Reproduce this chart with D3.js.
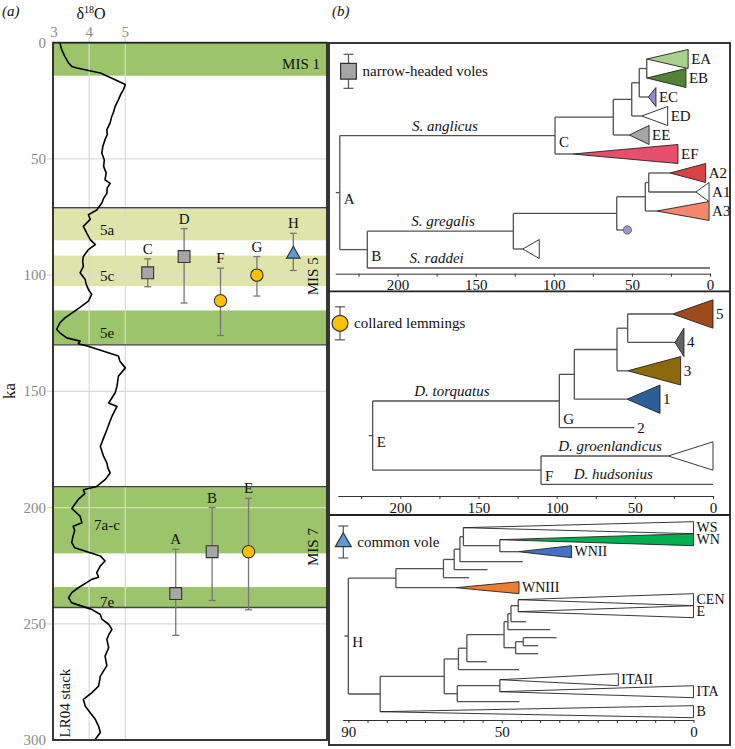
<!DOCTYPE html>
<meta charset="utf-8">
<style>
body{margin:0;background:#fff}
text{font-family:'Liberation Serif','Times New Roman',serif;font-size:15px;fill:#111}
.gray{fill:#8a8a8a}
.it{font-style:italic}
</style>
<script src="https://d3js.org/d3.v7.min.js"></script>
<svg width="735" height="749"></svg>
<script>
// ---- panel (a) data ----
// LR04 benthic stack, [ka, d18O]
var lr04 = [[0,3.19],[3,3.24],[6,3.33],[8.7,3.43],[10.2,3.52],[10.9,3.66],[13,4.31],[15.9,4.72],[18,5.0],[20.2,4.95],
  [22,4.88],[24.5,4.81],[27.4,4.72],[30,4.67],[32,4.62],[34.5,4.58],[37.4,4.49],[39.5,4.5],[41.7,4.44],[44.5,4.38],[47.5,4.35],
  [50.5,4.42],[53.2,4.4],[56,4.47],[59,4.44],[60.5,4.58],[62.5,4.5],[64.8,4.49],[67,4.4],[69,4.35],[72,4.21],[74,3.98],
  [76,4.03],[79,3.84],[81.8,3.93],[84.7,4.03],[86.9,4.17],[89,3.98],[92,3.84],[94,3.82],[96.2,3.84],[99,3.75],[101.9,3.89],
  [104,3.92],[106.2,3.98],[108.3,4.07],[111.2,3.98],[114.8,3.66],[118.4,3.33],[120.5,3.19],[123.4,3.1],[124.8,3.19],
  [127,3.38],[128.4,3.75],[129.5,3.7],[130.5,3.95],[132,4.25],[134.8,4.81],[137,4.85],[139.9,5.0],[143.5,4.81],[147.8,4.77],
  [150.6,4.72],[155,4.54],[156.5,4.77],[160.8,4.63],[163.5,4.56],[166.5,4.49],[170,4.4],[173.7,4.31],[178,4.4],[180.8,4.49],
  [183,4.52],[185.1,4.58],[188,4.44],[190.9,4.21],[192.3,3.84],[194,3.88],[196.5,3.7],[200.4,3.52],[203.7,3.75],[206.5,3.8],
  [208,3.56],[210,3.6],[212.5,3.55],[215.1,3.52],[217.3,3.6],[219.4,4.03],[220.8,4.31],[223,4.44],[225.1,4.31],[228,4.21],
  [230,4.26],[230.9,4.07],[232.3,3.93],[234.5,3.7],[236.6,3.52],[238.8,3.43],[241,3.52],[242.4,3.8],[243.8,4.07],[246,4.31],
  [248,4.35],[250.2,4.54],[252.4,4.63],[254.5,4.55],[256.7,4.49],[260.3,4.54],[263.9,4.44],[268,4.49],[272.5,4.31],
  [276.8,4.26],[279.7,4.07],[282.5,3.84],[285.4,3.89],[288.3,4.03],[291.1,4.17],[294,4.26],[296.8,4.31],[299.7,4.17]];

var bandName = ["MIS 1", "5a", "5c", "5e", "7a-c", "7e"];
var bandFrom = [0, 71.5, 91.6, 115.2, 190.7, 234.2];
var bandTo   = [14.2, 85, 104.7, 130, 219.7, 242.8];
var bandWarm = [true, false, false, true, true, true];
var stageLines = [71, 130, 191, 243];
var stageName = ["MIS 5", "MIS 7"];
var stageFrom = [71, 191];
var stageTo   = [130, 243];

var sampleId   = ["C", "D", "F", "G", "H", "A", "B", "E"];
var sampleType = ["vole", "vole", "lemming", "lemming", "common", "vole", "vole", "lemming"];
var sampleKa   = [99, 92, 111, 100, 91, 237, 219, 219];
var sampleLo   = [93, 80, 97, 92, 82, 218, 200, 196];
var sampleHi   = [105, 112, 126, 109, 98, 255, 240, 244];
var sampleSlot = [1, 2, 3, 4, 5, 1.77, 2.77, 3.77];

var kaTicks = [0, 50, 100, 150, 200, 250, 300];
var d18Ticks = [3, 4, 5];

// ---- panel (b) trees: N(age, kids, opts), L(tipAge, opts) ----
function N(age, kids, o) { return Object.assign({age: age, kids: kids}, o || {}); }
function L(tip, o) { return Object.assign({tip: tip}, o || {}); }

var volesTree = N(237, [
  N(99.2, [
    N(61.9, [
      N(50.1, [
        N(45.3, [
          N(40.5, [L(14, {lab: "EA", fill: "#a9d18e"}), L(15.4, {lab: "EB", fill: "#548235"})]),
          L(34.6, {lab: "EC", fill: "#8f88cc", apex: 39.5})
        ]),
        L(27.1, {lab: "ED", fill: "#fff", apex: 43.7})
      ]),
      L(39, {lab: "EE", fill: "#a5a5a5", apex: 51.7})
    ]),
    L(20.5, {lab: "EF", fill: "#e84d6c", apex: 88})
  ], {lab: "C", bl: "S. anglicus", at: 169.7}),
  N(219.4, [
    N(125.9, [
      N(59.7, [
        N(41.4, [
          N(39.2, [L(2.8, {lab: "A2", fill: "#d94343", apex: 25.6}), L(0.6, {lab: "A1", fill: "#fff", apex: 9})]),
          L(0.6, {lab: "A3", fill: "#f4876b", apex: 34})
        ]),
        L(52.9, {dot: "#9d95d3"})
      ]),
      L(109.3, {fill: "#fff", apex: 119.9})
    ], {bl: "S. gregalis", at: 170.9}),
    L(0, {bl: "S. raddei", at: 175})
  ], {lab: "B"})
], {lab: "A"});

var lemmingTree = N(217.7, [
  N(98.3, [
    N(88.7, [
      N(61.4, [
        N(54.6, [L(0, {lab: "5", fill: "#9e4a1b", apex: 25.8}), L(18.6, {lab: "4", fill: "#636363", apex: 24.3})]),
        L(20.7, {lab: "3", fill: "#8c6a0c", apex: 54.6})
      ]),
      L(33.9, {lab: "1", fill: "#2c5f97", apex: 55})
    ]),
    L(50.3, {lab: "2"})
  ], {lab: "G", ldy: 12, bl: "D. torquatus", at: 167}),
  N(110, [
    L(0, {fill: "#fff", apex: 28.6, bl: "D. groenlandicus", at: 65.9}),
    L(0, {bl: "D. hudsonius", at: 63.8})
  ], {lab: "F"})
], {lab: "E"});

var commonTree = N(90, [
  N(77.6, [
    N(65.2, [
      N(62.4, [
        N(60.9, [
          N(60, [
            L(0, {lab: "WS", fill: "#fff"}),
            N(50.5, [L(0, {lab: "WN", fill: "#00b050"}), L(31.8, {lab: "WNII", fill: "#4472c4", apex: 45.7})])
          ]),
          L(44.5)
        ]),
        L(53.7)
      ]),
      L(58.5)
    ]),
    L(45.5, {lab: "WNIII", fill: "#ed7d31", apex: 62})
  ]),
  N(81.7, [
    N(65, [
      N(61.3, [
        N(59.1, [
          N(49.4, [
            N(48.4, [
              N(47.6, [N(45.7, [L(0, {lab: "CEN", fill: "#fff"}), L(0, {lab: "E", fill: "#fff"})]), L(43.7)]),
              L(37.4)
            ]),
            N(46.4, [N(44.4, [L(35.7), L(40.5)]), L(40.5)])
          ]),
          L(53.9)
        ]),
        L(45.5)
      ]),
      N(61.6, [N(50.5, [L(19.6, {lab: "ITAII", fill: "#fff"}), L(0, {lab: "ITA", fill: "#fff"})]), L(45.4)])
    ]),
    L(0, {lab: "B", fill: "#fff"})
  ])
], {lab: "H"});

var svg = d3.select("svg");
svg.append("rect").attr("width", 735).attr("height", 749).attr("fill", "#fff");

// ================= panel (a) =================
var ky = d3.scaleLinear().domain([0, 300]).range([42.7, 740]);
var dx = d3.scaleLinear().domain([3, 5]).range([53, 125.3]);
var sx = d3.scaleLinear().domain([1, 5]).range([147.7, 293.3]);
var left = 53, right = 327;
var ga = svg.append("g");

ga.selectAll(".band").data(bandName).enter().append("rect")
  .attr("x", left).attr("width", right - left)
  .attr("y", function(d, i) { return ky(bandFrom[i]); })
  .attr("height", function(d, i) { return ky(bandTo[i]) - ky(bandFrom[i]); })
  .attr("fill", function(d, i) { return bandWarm[i] ? "#9cc46a" : "#dfe5aa"; });

// grid
ga.selectAll(".hg").data(kaTicks.slice(1, -1)).enter().append("line")
  .attr("x1", 47).attr("x2", right).attr("y1", ky).attr("y2", ky)
  .attr("stroke", "#dadada").attr("stroke-width", 1.2);
ga.selectAll(".vg").data([4, 5]).enter().append("line")
  .attr("x1", dx).attr("x2", dx).attr("y1", 37).attr("y2", ky(300))
  .attr("stroke", "#dadada").attr("stroke-width", 1.2);

ga.selectAll(".sl").data(stageLines).enter().append("line")
  .attr("x1", left).attr("x2", right).attr("y1", ky).attr("y2", ky)
  .attr("stroke", "#444").attr("stroke-width", 1.3);

ga.selectAll(".yl").data(kaTicks).enter().append("text").attr("class", "gray")
  .attr("x", 46).attr("y", function(d) { return ky(d) + 5; })
  .attr("text-anchor", "end").text(function(d) { return d; });
ga.selectAll(".xl").data(d18Ticks).enter().append("text").attr("class", "gray")
  .attr("x", function(d) { return dx(d) + (d === 3 ? 1 : 0); }).attr("y", 37)
  .attr("text-anchor", "middle").text(function(d) { return d; });

var dt = ga.append("text").attr("x", 91).attr("y", 19).attr("text-anchor", "middle").style("font-size", "16px");
dt.append("tspan").text("δ");
dt.append("tspan").attr("dy", -6).style("font-size", "10px").text("18");
dt.append("tspan").attr("dy", 6).text("O");

ga.append("text").attr("transform", "translate(15,391) rotate(-90)").attr("text-anchor", "middle")
  .style("font-size", "17px").text("ka");
ga.append("text").attr("x", 2).attr("y", 16).attr("class", "it").text("(a)");

// band labels
ga.selectAll(".bl").data(bandName).enter().append("text")
  .attr("x", function(d, i) { return i === 0 ? 320 : 107; })
  .attr("y", function(d, i) { return ky((bandFrom[i] + bandTo[i]) / 2) + 10; })
  .attr("text-anchor", function(d, i) { return i === 0 ? "end" : "middle"; })
  .text(function(d) { return d; });
ga.selectAll(".ml").data(stageName).enter().append("text")
  .attr("transform", function(d, i) { return "translate(318," + ky((stageFrom[i] + stageTo[i]) / 2) + ") rotate(-90)"; })
  .attr("text-anchor", "middle").text(function(d) { return d; });
ga.append("text").attr("transform", "translate(70,703) rotate(-90)").attr("text-anchor", "middle").text("LR04 stack");

// curve
ga.append("path").datum(lr04)
  .attr("d", d3.line().x(function(d) { return dx(d[1]); }).y(function(d) { return ky(d[0]); }))
  .attr("fill", "none").attr("stroke", "#000").attr("stroke-width", 1.6).attr("stroke-linejoin", "round");

// frame
ga.append("rect").attr("x", left).attr("y", ky(0)).attr("width", right - left).attr("height", ky(300) - ky(0))
  .attr("fill", "none").attr("stroke", "#222").attr("stroke-width", 1.8);

// samples
var symStyle = {
  vole:    {type: d3.symbolSquare, size: 140, fill: "#a6a6a6"},
  lemming: {type: d3.symbolCircle, size: 120, fill: "#ffc000"},
  common:  {type: d3.symbolTriangle, size: 80, fill: "#5b9bd5"}
};
function errBar(g, x, y1, y2, cw) {
  g.append("line").attr("x1", x).attr("x2", x).attr("y1", y1).attr("y2", y2);
  g.append("line").attr("x1", x - cw).attr("x2", x + cw).attr("y1", y1).attr("y2", y1);
  g.append("line").attr("x1", x - cw).attr("x2", x + cw).attr("y1", y2).attr("y2", y2);
}
sampleId.forEach(function(id, i) {
  var x = sx(sampleSlot[i]);
  var g = ga.append("g").attr("stroke", "#777").attr("stroke-width", 1.3);
  errBar(g, x, ky(sampleLo[i]), ky(sampleHi[i]), 3.5);
  var st = symStyle[sampleType[i]];
  ga.append("path").attr("d", d3.symbol().type(st.type).size(st.size)())
    .attr("transform", "translate(" + x + "," + ky(sampleKa[i]) + ")")
    .attr("fill", st.fill).attr("stroke", "#333").attr("stroke-width", 1.1);
  ga.append("text").attr("x", x).attr("y", ky(sampleLo[i]) - 5).attr("text-anchor", "middle").text(id);
});

// ================= panel (b) =================
var gb = svg.append("g");
gb.append("text").attr("x", 332).attr("y", 16).attr("class", "it").text("(b)");

function layoutTree(root, unit, tri, top) {
  var cur = 0;
  (function walk(n) {
    if (!n.kids) {
      var span = n.fill ? tri : 1;
      n.row = cur + span / 2; n.span = span; cur += span; return;
    }
    n.kids.forEach(walk);
    n.row = (n.kids[0].row + n.kids[n.kids.length - 1].row) / 2;
  })(root);
  return d3.scaleLinear().domain([0, cur]).range([top, top + cur * unit]);
}

function drawTree(g, root, x, y, unit, fs) {
  var lines = g.append("g").attr("stroke", "#505050").attr("stroke-width", 1.3).attr("fill", "none");
  var shapes = g.append("g");
  var texts = g.append("g");
  function seg(x1, y1, x2, y2) {
    lines.append("line").attr("x1", x1).attr("y1", y1).attr("x2", x2).attr("y2", y2);
  }
  function branchLabel(n, yy) {
    if (!n.bl) return;
    texts.append("text").attr("class", "it").attr("x", x(n.at)).attr("y", yy - 5)
      .attr("text-anchor", "middle").text(n.bl);
  }
  function walk(n, px) {
    var yy = y(n.row);
    if (n.kids) {
      var nx = x(n.age);
      seg(px, yy, nx, yy);
      seg(nx, y(n.kids[0].row), nx, y(n.kids[n.kids.length - 1].row));
      branchLabel(n, yy);
      if (n.lab) texts.append("text").attr("x", nx + 4).attr("y", yy + 11 + (n.ldy || 0)).text(n.lab);
      n.kids.forEach(function(k) { walk(k, nx); });
      return;
    }
    branchLabel(n, yy);
    var tx = x(n.tip);
    if (n.dot) {
      var cx = x(n.tip);
      seg(px, yy, cx - 4, yy);
      shapes.append("circle").attr("cx", cx).attr("cy", yy).attr("r", 4.2)
        .attr("fill", n.dot).attr("stroke", "#555").attr("stroke-width", 0.8);
      return;
    }
    if (n.fill) {
      var ax = n.apex !== undefined ? x(n.apex) : px;
      if (ax > px) seg(px, yy, ax, yy);
      var hh = n.span * unit / 2;
      shapes.append("path")
        .attr("d", "M" + ax + "," + yy + "L" + tx + "," + (yy - hh) + "L" + tx + "," + (yy + hh) + "Z")
        .attr("fill", n.fill).attr("stroke", "#222").attr("stroke-width", 0.9).attr("stroke-linejoin", "miter");
    } else {
      seg(px, yy, tx, yy);
    }
    if (n.lab) texts.append("text").attr("x", tx + 3).attr("y", yy + fs / 3)
      .style("font-size", fs + "px").text(n.lab);
  }
  var rx = x(root.age);
  walk(root, rx - 4);
}

function treeAxis(g, x, yAxis, step, labs) {
  var ax = d3.axisBottom(x).tickValues(d3.range(0, x.domain()[1] + 0.01, step))
    .tickSize(3).tickPadding(3).tickSizeOuter(0)
    .tickFormat(function(d) { return labs.indexOf(d) >= 0 ? d : ""; });
  var a = g.append("g").attr("transform", "translate(0," + yAxis + ")").call(ax);
  a.select(".domain").attr("stroke", "#333");
  a.selectAll(".tick line").attr("stroke", "#333");
  a.selectAll("text").style("font-family", "'Liberation Serif','Times New Roman',serif")
    .style("font-size", "15px").attr("fill", "#111");
}

// upper: narrow-headed voles
var x1 = d3.scaleLinear().domain([0, 240]).range([710, 335.1]);
var y1 = layoutTree(volesTree, 19, 1, 49.5);
drawTree(gb.append("g"), volesTree, x1, y1, 19, 15);
treeAxis(gb, x1, 273.7, 25, [0, 50, 100, 150, 200]);

// middle: collared lemmings
var x2 = d3.scaleLinear().domain([0, 240]).range([713, 337.8]);
var y2 = layoutTree(lemmingTree, 28.4, 1, 299.8);
drawTree(gb.append("g"), lemmingTree, x2, y2, 28.4, 15);
treeAxis(gb, x2, 496, 25, [0, 50, 100, 150, 200]);

// bottom: common vole
var x3 = d3.scaleLinear().domain([0, 91.5]).range([693.5, 342.6]);
var y3 = layoutTree(commonTree, 8, 1.5, 521.7);
drawTree(gb.append("g"), commonTree, x3, y3, 8, 14);
treeAxis(gb, x3, 720, 5, [0, 50, 90]);

// legends
function legend(cx, cy, st, label, half) {
  var g = gb.append("g");
  var eb = g.append("g").attr("stroke", "#555").attr("stroke-width", 1.2);
  errBar(eb, cx, cy - half, cy + half, 5);
  g.append("path").attr("d", d3.symbol().type(st.type).size(st.size)())
    .attr("transform", "translate(" + cx + "," + cy + ")")
    .attr("fill", st.fill).attr("stroke", "#333").attr("stroke-width", 1.2);
  g.append("text").attr("x", cx + 14).attr("y", cy + 5).text(label);
}
legend(348.5, 71.3, {type: d3.symbolSquare, size: 250, fill: "#a6a6a6"}, "narrow-headed voles", 17);
legend(340, 323.3, {type: d3.symbolCircle, size: 200, fill: "#ffc000"}, "collared lemmings", 16.5);
legend(343.3, 542, {type: d3.symbolTriangle, size: 110, fill: "#5b9bd5"}, "common vole", 16);

// panel (b) frame
gb.append("rect").attr("x", 329).attr("y", 43).attr("width", 401).attr("height", 702)
  .attr("fill", "none").attr("stroke", "#222").attr("stroke-width", 1.8);
gb.selectAll(".sep").data([291.3, 515]).enter().append("line")
  .attr("x1", 329).attr("x2", 730).attr("y1", function(d) { return d; }).attr("y2", function(d) { return d; })
  .attr("stroke", "#222").attr("stroke-width", 1.8);
</script>
